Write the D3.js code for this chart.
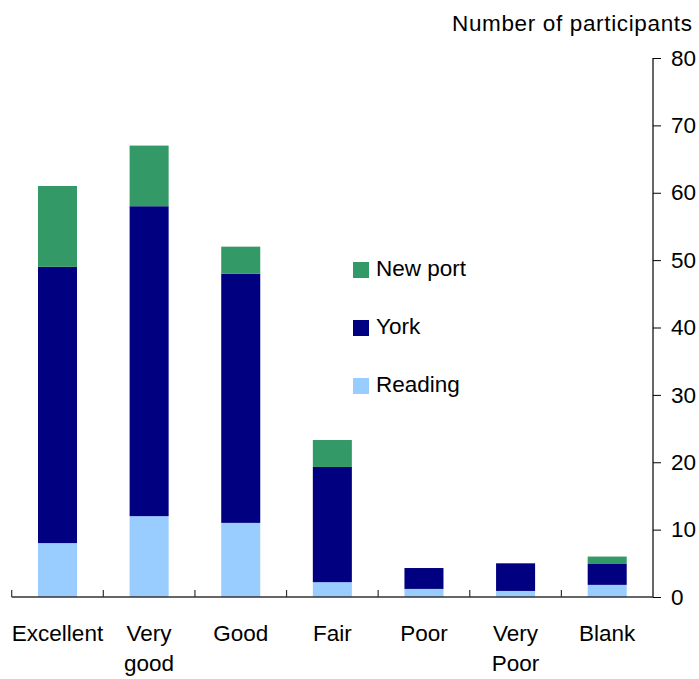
<!DOCTYPE html>
<html>
<head>
<meta charset="utf-8">
<script src="https://cdn.jsdelivr.net/npm/d3@7"></script>
<style>
  html, body { margin: 0; padding: 0; background: #fff; }
  svg { display: block; }
  text { font-family: "Liberation Sans", Arial, sans-serif; fill: #000; }
</style>
</head>
<body>
<svg id="chart" width="699" height="679"></svg>
<script>
const categories = ["Excellent", "Very good", "Good", "Fair", "Poor", "Very Poor", "Blank"];
const categoryLines = [["Excellent"], ["Very", "good"], ["Good"], ["Fair"], ["Poor"], ["Very", "Poor"], ["Blank"]];
const reading = [8, 12, 11, 2.2, 1.2, 0.9, 1.8];
const york = [41, 46, 37, 17.1, 3.1, 4.1, 3.1];
const newport = [12, 9, 4, 4.0, 0, 0, 1.1];
const seriesNames = ["Reading", "York", "New port"];
const seriesColors = ["#99CCFF", "#000080", "#339966"];
const yTicks = [0, 10, 20, 30, 40, 50, 60, 70, 80];
const yTitle = "Number of participants";

const svg = d3.select("#chart");
const plotLeft = 11.7, plotRight = 653, plotTop = 58, plotBottom = 597;
const fs = 22.5;

const x = d3.scaleBand().domain(categories).range([plotLeft, plotRight]).paddingInner(0.574).paddingOuter(0.287);
const xEdges = d3.scaleBand().domain(categories).range([plotLeft, plotRight]).padding(0);
const y = d3.scaleLinear().domain([0, 80]).range([plotBottom, plotTop]);

const table = categories.map((c, i) => ({cat: c, "Reading": reading[i], "York": york[i], "New port": newport[i]}));
const stack = d3.stack().keys(seriesNames)(table);

svg.append("g").selectAll("g").data(stack).join("g")
  .attr("fill", (d, i) => seriesColors[i])
  .selectAll("rect").data(d => d).join("rect")
  .attr("x", d => x(d.data.cat))
  .attr("width", x.bandwidth())
  .attr("y", d => y(d[1]))
  .attr("height", d => Math.max(0, y(d[0]) - y(d[1])));

// Right axis
const yAxis = d3.axisRight(y).tickValues(yTicks).tickSize(8).tickPadding(10);
const gy = svg.append("g").attr("transform", `translate(${plotRight},0)`).call(yAxis);
gy.select(".domain").attr("stroke", "#000").attr("stroke-width", 1.2).attr("d", `M0,${plotTop}V${plotBottom}`);
gy.selectAll(".tick line").attr("stroke", "#000");
gy.selectAll(".tick text").attr("font-size", fs).attr("font-family", "Liberation Sans, Arial, sans-serif").attr("fill", "#000");

// Bottom baseline with inward ticks at category edges
const gx = svg.append("g");
gx.append("line").attr("x1", plotLeft).attr("x2", plotRight).attr("y1", plotBottom).attr("y2", plotBottom)
  .attr("stroke", "#333").attr("stroke-width", 1.5);
const edges = categories.map(c => xEdges(c));
gx.selectAll("line.edge").data(edges).join("line").attr("class", "edge")
  .attr("x1", d => d).attr("x2", d => d).attr("y1", plotBottom - 7).attr("y2", plotBottom)
  .attr("stroke", "#333").attr("stroke-width", 1.2);

// Category labels
const lab = svg.append("g").selectAll("text").data(categories).join("text")
  .attr("x", d => xEdges(d) + xEdges.bandwidth() / 2)
  .attr("y", 641)
  .attr("text-anchor", "middle")
  .attr("font-size", fs);
lab.selectAll("tspan").data((d, i) => categoryLines[i]).join("tspan")
  .attr("x", function() { return d3.select(this.parentNode).attr("x"); })
  .attr("dy", (d, j) => j === 0 ? 0 : 30)
  .text(d => d);

// Axis title
svg.append("text").attr("x", 692).attr("y", 31).attr("text-anchor", "end")
  .attr("font-size", fs).attr("textLength", 240).text(yTitle);

// Legend
const legendOrder = [2, 1, 0];
const lg = svg.append("g").selectAll("g").data(legendOrder).join("g")
  .attr("transform", (d, i) => `translate(353,${262 + i * 58})`);
lg.append("rect").attr("width", 16).attr("height", 16).attr("fill", d => seriesColors[d]);
lg.append("text").attr("x", 23).attr("y", 14).attr("font-size", fs).text(d => seriesNames[d]);
</script>
</body>
</html>
